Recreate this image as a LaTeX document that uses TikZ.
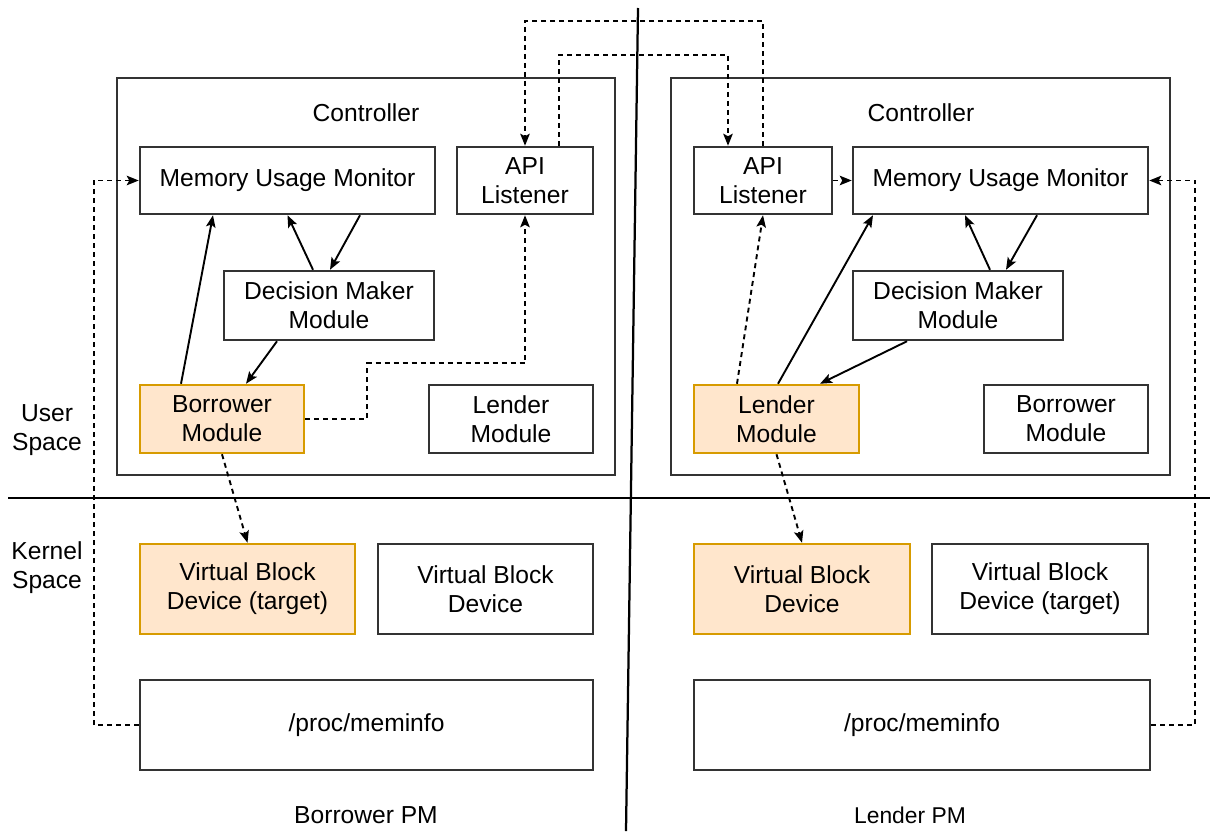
\documentclass[tikz,border=0pt]{standalone}
\usepackage{fontspec}
\setmainfont{Liberation Sans}
\usetikzlibrary{arrows.meta, calc}
\definecolor{edge}{HTML}{333333}
\definecolor{hlfill}{HTML}{FFE6CC}
\definecolor{hldraw}{HTML}{D79B00}

\begin{document}
\begin{tikzpicture}[
    x=0.2mm, y=-0.2mm,
    font=\fontsize{14}{16.5}\selectfont,
    blk/.style={
        draw=edge, line width=0.5mm, align=center,
        inner sep=0pt, minimum height=13.6mm,
    },
    hlblk/.style={blk, fill=hlfill, draw=hldraw},
    flow/.style={
        line width=0.38mm,
        -{Stealth[length=2.4mm, width=1.9mm, inset=0.5mm]},
    },
    dflow/.style={flow, dash pattern=on 1mm off 0.8mm},
]
\useasboundingbox (0,0) rectangle (1210,831);

% =============================================
% DIVIDERS – user / kernel, borrower / lender
% =============================================
\draw[line width=0.45mm] (8,498) -- (1210,498);
\draw[line width=0.45mm] (638,8) -- (626,831);

\node[align=center] (userlbl) at (47,430) {User\\Space};
\node[align=center] (kernlbl) at (47,568) {Kernel\\Space};

% =============================================
% BORROWER PM (left)
% =============================================
\node[draw=edge, line width=0.5mm, minimum width=99.6mm, minimum height=79.4mm, inner sep=0pt] (ctrlL) at (366,276.5) {};
\node (ctrlLt) at (366,113) {Controller};

\node[blk, minimum width=59mm, minimum height=13.4mm] (monL) at (287.5,180.5) {Memory Usage Monitor};
\node[blk, minimum width=27.2mm, minimum height=13.4mm] (apiL) at (525,180.5) {API\\Listener};
\node[blk, minimum width=42mm, minimum height=13.8mm] (dmL) at (329,305.5) {Decision Maker\\Module};
\node[hlblk, minimum width=32.8mm] (borL) at (222,419) {Borrower\\Module};
\node[blk, minimum width=32.8mm] (lenL) at (511,419) {Lender\\Module};

% Kernel side
\node[hlblk, minimum width=43mm, minimum height=18mm] (vbdL) at (247.5,589) {Virtual Block\\Device (target)};
\node[blk, minimum width=43mm, minimum height=18mm] (vbdLx) at (485.5,589) {Virtual Block\\Device};
\node[blk, minimum width=90.6mm, minimum height=18mm] (procL) at (366.5,725) {/proc/meminfo};

\node (pmL) at (366,815) {Borrower PM};

% Arrows
\draw[flow] ($(borL.north)+(-41,0)$) -- ($(monL.south)+(-74.5,0)$);
\draw[flow] ($(dmL.north)+(-16,0)$) -- (monL.south);
\draw[flow] ($(monL.south)+(72.5,0)$) -- ($(dmL.north)+(1,0)$);
\draw[flow] ($(dmL.south)+(-52,0)$) -- ($(borL.north)+(24,0)$);
\draw[dflow] (borL.east) -- ++(62,0) |- ($(apiL.south)+(0,148)$) -- (apiL.south);
\draw[dflow] (borL.south) -- (vbdL.north);
\draw[dflow] (procL.west) -- ++(-45,0) |- (monL.west);

% =============================================
% LENDER PM (right)
% =============================================
\node[draw=edge, line width=0.5mm, minimum width=99.8mm, minimum height=79.4mm, inner sep=0pt] (ctrlR) at (920.5,276.5) {};
\node (ctrlRt) at (921,113) {Controller};

\node[blk, minimum width=27.6mm, minimum height=13.4mm] (apiR) at (763,180.5) {API\\Listener};
\node[blk, minimum width=59mm, minimum height=13.4mm] (monR) at (1000.5,180.5) {Memory Usage Monitor};
\node[blk, minimum width=42mm, minimum height=13.8mm] (dmR) at (958,305.5) {Decision Maker\\Module};
\node[hlblk, minimum width=33mm] (lenR) at (776.5,419) {Lender\\Module};
\node[blk, minimum width=32.8mm] (borR) at (1066,419) {Borrower\\Module};

% Kernel side
\node[hlblk, minimum width=43.2mm, minimum height=18mm] (vbdR) at (802,589) {Virtual Block\\Device};
\node[blk, minimum width=43.2mm, minimum height=18mm] (vbdRx) at (1040,589) {Virtual Block\\Device (target)};
\node[blk, minimum width=91.2mm, minimum height=18mm] (procR) at (922,725) {/proc/meminfo};

\node[font=\fontsize{13}{15}\selectfont] (pmR) at (910,815) {Lender PM};

% Arrows
\draw[dflow] ($(lenR.north)+(-39.5,0)$) -- (apiR.south);
\draw[flow] ($(lenR.north)+(1.5,0)$) -- ($(monR.south)+(-127.5,0)$);
\draw[flow] ($(dmR.north)+(32,0)$) -- ($(monR.south)+(-35.5,0)$);
\draw[flow] ($(monR.south)+(36.5,0)$) -- ($(dmR.north)+(48,0)$);
\draw[flow] ($(dmR.south)+(-51,0)$) -- ($(lenR.north)+(43.5,0)$);
\draw[dflow] (apiR.east) -- (monR.west);
\draw[dflow] (lenR.south) -- (vbdR.north);
\draw[dflow] (procR.east) -- ++(44,0) |- (monR.east);

% =============================================
% API LISTENERS – cross-machine links
% =============================================
\draw[dflow] (apiR.north) -- ++(0,-125) -| (apiL.north);
\draw[dflow] ($(apiL.north)+(34,0)$) -- ++(0,-91) -| ($(apiR.north)+(-35,0)$);

\end{tikzpicture}
\end{document}
